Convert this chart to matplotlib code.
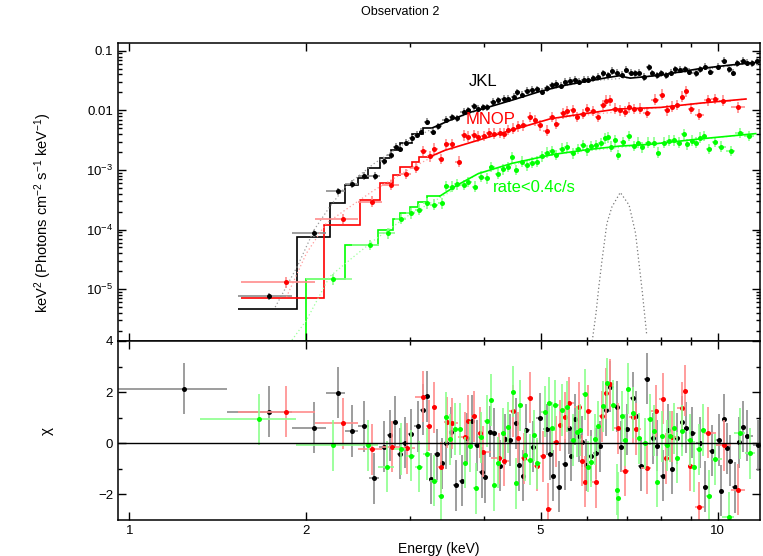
import numpy as np
import matplotlib
matplotlib.use("Agg")
import matplotlib.pyplot as plt
from matplotlib.ticker import FixedLocator, FixedFormatter, NullFormatter, LogLocator

plt.rcParams["font.family"] = ["Liberation Sans", "DejaVu Sans"]
plt.rcParams["mathtext.default"] = "regular"

# ---- unfolded spectra (top panel) ----
black_e = [1.73, 2.06, 2.26, 2.39, 2.51, 2.62, 2.71, 2.78, 2.84, 2.89, 2.95, 3.02, 3.08, 3.13, 3.20,
           3.28, 3.35, 3.46, 3.53, 3.60, 3.70, 3.77, 3.85, 3.92, 3.99, 4.05, 4.15, 4.24, 4.33, 4.41,
           4.50, 4.56, 4.65, 4.74, 4.83, 4.94, 5.02, 5.12, 5.22, 5.32, 5.41, 5.50, 5.61, 5.72, 5.81,
           5.92, 6.02, 6.14, 6.26, 6.39, 6.52, 6.60, 6.73, 6.87, 6.98, 7.11, 7.24, 7.36, 7.48, 7.63,
           7.73, 7.87, 8.02, 8.16, 8.33, 8.47, 8.62, 8.80, 8.95, 9.17, 9.33, 9.53, 9.72, 10.0, 10.26,
           10.44, 10.63, 10.8, 11.04, 11.23, 11.45, 11.67]
black_f = [7.6e-6, 8.7e-5, 4.4e-4, 5.8e-4, 7.9e-4, 7.9e-4, 1.41e-3, 1.78e-3, 2.45e-3, 2.29e-3,
           2.88e-3, 3.39e-3, 3.89e-3, 4.37e-3, 6.46e-3, 4.37e-3, 5.37e-3, 6.92e-3, 7.59e-3, 7.41e-3,
           9.55e-3, 1.01e-2, 1.17e-2, 1.07e-2, 1.12e-2, 1.12e-2, 1.38e-2, 1.48e-2, 1.58e-2, 1.58e-2,
           1.70e-2, 2.0e-2, 1.82e-2, 2.14e-2, 2.19e-2, 2.24e-2, 2.04e-2, 2.34e-2, 2.63e-2, 2.82e-2,
           2.57e-2, 3.02e-2, 3.16e-2, 3.24e-2, 3.02e-2, 3.24e-2, 3.24e-2, 3.47e-2, 3.63e-2, 4.17e-2,
           3.89e-2, 4.57e-2, 4.27e-2, 3.98e-2, 4.79e-2, 4.27e-2, 4.17e-2, 4.27e-2, 3.63e-2, 5.25e-2,
           4.17e-2, 3.89e-2, 4.17e-2, 3.89e-2, 4.27e-2, 4.90e-2, 4.79e-2, 4.90e-2, 4.47e-2, 4.17e-2,
           4.90e-2, 5.37e-2, 4.47e-2, 5.37e-2, 6.76e-2, 4.90e-2, 4.27e-2, 6.17e-2, 6.76e-2, 6.31e-2,
           6.17e-2, 6.61e-2]

red_e = [1.85, 2.31, 2.59, 2.79, 2.95, 3.07, 3.16, 3.24, 3.30, 3.39, 3.46, 3.53, 3.63, 3.70, 3.77,
         3.85, 3.92, 4.00, 4.09, 4.17, 4.26, 4.33, 4.41, 4.49, 4.58, 4.67, 4.80, 4.89, 4.98, 5.13,
         5.22, 5.32, 5.45, 5.55, 5.67, 5.76, 5.90, 6.00, 6.13, 6.25, 6.39, 6.47, 6.56, 6.68, 6.81,
         6.95, 7.08, 7.22, 7.37, 7.59, 7.83, 8.04, 8.20, 8.37, 8.54, 8.71, 8.83, 9.00, 9.30, 9.63,
         9.88, 10.22, 10.82]
red_f = [1.30e-5, 1.51e-4, 2.95e-4, 5.62e-4, 8.51e-4, 1.08e-3, 2.09e-3, 1.70e-3, 2.29e-3, 1.53e-3,
         2.69e-3, 2.69e-3, 1.38e-3, 3.80e-3, 3.63e-3, 3.80e-3, 3.63e-3, 3.72e-3, 4.17e-3, 4.07e-3,
         4.17e-3, 4.07e-3, 4.68e-3, 4.90e-3, 5.37e-3, 5.62e-3, 7.76e-3, 6.76e-3, 5.62e-3, 4.57e-3,
         7.76e-3, 5.89e-3, 8.91e-3, 9.77e-3, 1.0e-2, 7.76e-3, 8.71e-3, 1.05e-2, 9.77e-3, 7.76e-3,
         1.23e-2, 1.45e-2, 1.48e-2, 1.07e-2, 1.0e-2, 9.55e-3, 1.12e-2, 1.05e-2, 1.07e-2, 9.12e-3,
         1.51e-2, 1.82e-2, 1.0e-2, 1.15e-2, 1.23e-2, 1.70e-2, 2.09e-2, 1.07e-2, 8.51e-3, 1.48e-2,
         1.55e-2, 1.45e-2, 1.12e-2]

green_e = [2.22, 2.57, 2.75, 2.90, 3.01, 3.11, 3.20, 3.30, 3.40, 3.46, 3.53, 3.60, 3.70, 3.77, 3.87,
           3.96, 4.05, 4.12, 4.24, 4.32, 4.41, 4.47, 4.55, 4.65, 4.74, 4.83, 4.93, 5.02, 5.12, 5.22,
           5.31, 5.43, 5.54, 5.67, 5.78, 5.90, 6.00, 6.10, 6.21, 6.33, 6.43, 6.52, 6.58, 6.70, 6.76,
           6.90, 7.06, 7.20, 7.31, 7.45, 7.60, 7.78, 7.93, 8.10, 8.25, 8.42, 8.58, 8.76, 8.88, 9.06,
           9.18, 9.33, 9.48, 9.66, 9.88, 10.14, 10.52, 10.89, 11.30]
green_f = [1.46e-5, 5.5e-5, 8.7e-5, 1.51e-4, 1.86e-4, 2.14e-4, 2.75e-4, 2.63e-4, 2.75e-4, 5.37e-4,
           5.25e-4, 5.75e-4, 5.62e-4, 6.31e-4, 5.25e-4, 7.76e-4, 7.24e-4, 1.12e-3, 8.71e-4, 1.02e-3,
           1.12e-3, 1.62e-3, 1.0e-3, 1.38e-3, 1.20e-3, 1.32e-3, 1.38e-3, 1.70e-3, 1.95e-3, 2.09e-3,
           1.78e-3, 2.29e-3, 2.40e-3, 1.91e-3, 2.24e-3, 2.63e-3, 2.14e-3, 2.51e-3, 2.63e-3, 2.82e-3,
           3.39e-3, 3.55e-3, 2.45e-3, 3.16e-3, 1.78e-3, 2.95e-3, 3.72e-3, 2.51e-3, 2.88e-3, 2.40e-3,
           2.88e-3, 2.88e-3, 1.95e-3, 2.88e-3, 3.09e-3, 3.16e-3, 2.88e-3, 3.98e-3, 2.69e-3, 3.09e-3,
           2.88e-3, 3.47e-3, 3.72e-3, 2.24e-3, 2.95e-3, 2.45e-3, 2.09e-3, 4.17e-3, 3.72e-3]

# lower edge of the first bin, and typical error size (dex)
black_lo, red_lo, green_lo = 1.53, 1.55, 2.0
black_err, red_err, green_err = 0.06, 0.09, 0.09

# ---- folded model: binned steps at low energy, then a line ----
black_step_edges = [1.53, 1.93, 2.19, 2.33, 2.45, 2.55, 2.67, 2.78, 2.89, 3.02, 3.16, 3.28]
black_step_f = [4.7e-6, 7.4e-5, 2.75e-4, 5.5e-4, 7.2e-4, 1.07e-3, 1.58e-3, 2.14e-3, 2.82e-3, 4.07e-3, 5.13e-3]
black_line_e = [3.28, 3.5, 3.8, 4.0, 4.5, 5.0, 5.5, 6.0, 6.5, 6.8, 7.1, 8.0, 9.3, 10.5, 11.8]
black_line_f = [5.13e-3, 6.76e-3, 9.3e-3, 1.07e-2, 1.51e-2, 2.09e-2, 2.63e-2, 3.09e-2, 3.55e-2, 3.8e-2,
                3.47e-2, 3.89e-2, 5.0e-2, 5.75e-2, 6.46e-2]

red_step_edges = [1.55, 2.14, 2.47, 2.67, 2.81, 2.89, 3.02, 3.11, 3.24]
red_step_f = [7.1e-6, 1.17e-4, 3.13e-4, 5.96e-4, 8.1e-4, 1.12e-3, 1.38e-3, 1.66e-3]
red_line_e = [3.24, 3.44, 3.92, 4.47, 5.2, 5.9, 6.74, 8.0, 9.33, 11.17]
red_line_f = [1.66e-3, 2.14e-3, 3.16e-3, 4.68e-3, 7.24e-3, 8.71e-3, 1.05e-2, 1.12e-2, 1.32e-2, 1.55e-2]

green_step_edges = [1.32, 2.0, 2.33, 2.65, 2.81, 2.88, 3.0, 3.10, 3.20, 3.37]
green_step_f = [1e-7, 1.48e-5, 5.5e-5, 1.0e-4, 1.48e-4, 1.9e-4, 2.4e-4, 2.95e-4, 3.63e-4]
green_line_e = [3.37, 3.6, 3.92, 4.47, 5.25, 6.0, 6.8, 7.67, 9.3, 11.6]
green_line_f = [3.63e-4, 5.5e-4, 8.7e-4, 1.29e-3, 1.82e-3, 2.19e-3, 2.51e-3, 2.69e-3, 3.31e-3, 4.07e-3]

# ---- unfolded model components (dotted) ----
black_dot_e = [1.77, 1.93, 2.06, 2.19, 2.33, 2.6, 3.0, 3.5, 4.0, 5.0, 6.0, 8.0, 11.8]
black_dot_f = [5.0e-6, 2.4e-5, 9.8e-5, 2.4e-4, 5.25e-4, 1.26e-3, 3.2e-3, 6.76e-3, 1.07e-2, 2.09e-2,
               3.09e-2, 3.89e-2, 6.46e-2]
red_dot_e = [1.85, 2.0, 2.16, 2.33, 2.6, 3.0, 3.44, 3.92, 5.2, 8.0, 11.17]
red_dot_f = [7.4e-6, 4.0e-5, 1.26e-4, 2.14e-4, 4.5e-4, 1.05e-3, 2.14e-3, 3.16e-3, 7.24e-3, 1.12e-2, 1.55e-2]
green_dot_e = [1.89, 2.0, 2.19, 2.37, 2.6, 3.0, 3.44, 3.92, 5.25, 7.67, 11.6]
green_dot_f = [1.4e-6, 3.0e-6, 1.62e-5, 3.1e-5, 6.5e-5, 1.8e-4, 3.8e-4, 8.7e-4, 1.82e-3, 2.69e-3, 4.07e-3]
line_e = [6.12, 6.21, 6.28, 6.36, 6.48, 6.61, 6.83, 7.07, 7.25, 7.44, 7.57]
line_f = [1.35e-6, 3.9e-6, 1.1e-5, 3.1e-5, 1.26e-4, 2.4e-4, 4.2e-4, 2.57e-4, 8.7e-5, 9.5e-6, 1.8e-6]

# ---- residuals (chi) ----
black_re = [1.24, 1.73, 2.06, 2.26, 2.39, 2.51, 2.61, 2.71, 2.77, 2.83, 2.88, 2.94, 3.01, 3.09, 3.15,
            3.20, 3.26, 3.34, 3.40, 3.46, 3.52, 3.59, 3.67, 3.75, 3.82, 3.90, 3.97, 4.03, 4.11, 4.17,
            4.27, 4.35, 4.44, 4.54, 4.60, 4.67, 4.73, 4.85, 4.98, 5.12, 5.18, 5.25, 5.38, 5.51, 5.58,
            5.64, 5.71, 5.80, 5.87, 5.97, 6.08, 6.22, 6.32, 6.45, 6.57, 6.74, 6.85, 7.00, 7.17, 7.26,
            7.40, 7.57, 7.75, 7.90, 8.08, 8.23, 8.37, 8.54, 8.69, 8.84, 9.03, 9.34, 9.52, 9.78, 10.04,
            10.11, 10.25, 10.38, 10.51, 10.68, 10.87, 11.05, 11.22, 11.71]
black_chi = [2.14, 1.23, 0.61, 1.97, 0.48, 0.67, -1.36, -0.13, 0.32, 0.84, -0.40, 0.03, 0.36, 0.67, 1.32,
             1.84, -1.39, -0.43, -0.78, 0.0, 0.43, -1.65, -1.46, 0.19, 0.88, -0.07, -1.13, -1.33, 0.45, 0.39,
             -0.87, 0.16, 0.13, 0.78, -0.85, -1.26, 0.52, -0.13, 0.97, 0.55, -0.42, -1.26, -1.69, -0.82, 0.58,
             -0.48, 0.94, 0.28, 0.06, -0.85, -0.49, -0.39, -0.11, 1.30, 2.21, 1.43, -0.13, 0.55, 1.78, 1.06,
             -0.88, 2.53, 0.19, -0.10, -1.26, 0.52, -1.0, 0.19, 0.84, 0.61, 0.41, 0.03, -1.69, -0.29, 0.13,
             -1.85, 0.94, -0.20, -0.68, -1.72, 0.04, 0.65, 0.30, -0.07]
red_re = [1.85, 2.31, 2.59, 2.80, 2.96, 3.16, 3.23, 3.30, 3.38, 3.47, 3.53, 3.72, 3.77, 3.85, 3.94,
          3.99, 4.25, 4.34, 4.49, 4.58, 4.69, 4.79, 4.93, 5.05, 5.15, 5.32, 5.40, 5.51, 5.59, 5.80,
          5.89, 5.95, 6.02, 6.21, 6.35, 6.46, 6.55, 6.76, 6.95, 7.17, 7.26, 7.57, 7.84, 8.08, 8.18,
          8.37, 8.71, 8.81, 8.98, 9.31, 9.62, 10.23, 10.82]
red_chi = [1.23, 0.78, -0.23, -0.13, -0.20, 1.82, 0.69, 1.40, -0.94, 0.82, 0.78, 0.23, 0.88, 1.06, 0.41,
           -0.33, -0.59, -0.68, 1.26, 0.22, -0.59, 1.78, -0.88, -0.50, -2.57, 0.06, 0.71, 1.01, 1.58, 1.40,
           -0.68, -1.50, 1.27, -1.52, 1.06, 1.95, 2.30, 0.58, -1.07, 1.01, 0.56, -0.98, 1.26, 1.75, -0.59,
           0.26, 1.39, 2.05, -0.87, -2.50, 0.41, -0.07, -1.82]
green_re = [1.66, 2.22, 2.55, 2.74, 2.90, 3.01, 3.11, 3.20, 3.30, 3.39, 3.46, 3.51, 3.58, 3.65, 3.72,
            3.80, 3.88, 3.96, 4.05, 4.12, 4.17, 4.24, 4.32, 4.41, 4.48, 4.54, 4.62, 4.70, 4.79, 4.88,
            4.94, 5.09, 5.17, 5.22, 5.30, 5.43, 5.54, 5.67, 5.76, 5.84, 5.94, 6.02, 6.08, 6.19, 6.27,
            6.38, 6.48, 6.64, 6.74, 6.78, 6.87, 6.95, 7.04, 7.18, 7.36, 7.52, 7.66, 7.78, 7.90, 8.04,
            8.20, 8.31, 8.42, 8.54, 8.71, 8.97, 9.11, 9.29, 9.45, 9.65, 9.89, 10.46, 10.89, 11.33]
green_chi = [0.94, -0.07, -0.07, -0.91, -0.22, -0.49, -0.91, -0.42, -1.46, -2.05, 1.01, 0.16, 0.56, 0.56, -0.76,
             -0.11, -1.76, 0.23, 0.87, 1.69, -1.63, -0.76, 0.39, 0.62, 2.01, -1.56, 1.49, -0.46, -0.65, 0.32,
             -0.78, 1.23, 1.58, 0.61, 1.48, 1.30, 1.43, 0.13, 0.45, 0.52, 1.92, -0.91, -0.72, 0.16, 0.67,
             1.45, 2.34, 1.49, -1.82, -2.14, 1.06, 0.13, 2.14, 1.19, 0.19, 0.0, 0.94, 0.49, -1.50, 0.28,
             -0.07, 0.28, 0.58, -0.56, 0.49, 0.13, -0.91, -0.23, 0.52, -2.05, -0.62, -2.89, 0.39, -0.39]
black_re_lo, red_re_lo, green_re_lo = 0.89, 1.53, 1.32


def bin_xerr(e, lo):
    e = np.asarray(e, float)
    mid = np.sqrt(e[1:] * e[:-1])
    left = np.r_[lo, mid]
    right = np.r_[mid, e[-1] ** 2 / mid[-1]]
    return np.vstack([e - left, right - e])


def log_yerr(f, dex):
    f = np.asarray(f, float)
    return np.vstack([f - f / 10 ** dex, f * 10 ** dex - f])


fig = plt.figure(figsize=(7.63, 5.56), dpi=100)
ax1 = fig.add_axes([0.1547, 0.3867, 0.8414, 0.536])
ax2 = fig.add_axes([0.1547, 0.0647, 0.8414, 0.322])

series = [
    ("black", "#000000", "#8c8c8c", "#9a9a9a"),
    ("red", "#ff0000", "#ff8c8c", "#ff9a9a"),
    ("green", "#00ff00", "#8cff8c", "#9aff9a"),
]
data = {
    "black": (black_e, black_f, black_lo, black_err, black_step_edges, black_step_f, black_line_e,
              black_line_f, black_dot_e, black_dot_f, black_re, black_chi, black_re_lo),
    "red": (red_e, red_f, red_lo, red_err, red_step_edges, red_step_f, red_line_e,
            red_line_f, red_dot_e, red_dot_f, red_re, red_chi, red_re_lo),
    "green": (green_e, green_f, green_lo, green_err, green_step_edges, green_step_f, green_line_e,
              green_line_f, green_dot_e, green_dot_f, green_re, green_chi, green_re_lo),
}

ax1.plot(line_e, line_f, color="#777777", lw=0.9, ls=(0, (1, 2)))
for name, col, ecol, dcol in series:
    (e, f, lo, err, sedges, sf, le, lf, de, df, re, chi, relo) = data[name]
    ax1.plot(de, df, color=dcol, lw=0.9, ls=(0, (1, 2)))
    ax1.errorbar(e, f, xerr=bin_xerr(e, lo), yerr=log_yerr(f, err), fmt="none",
                 ecolor=ecol, elinewidth=1.2, capsize=0)
    ax1.stairs(sf, sedges, color=col, lw=1.2, baseline=None)
    ax1.plot(le, lf, color=col, lw=1.2)
    ax1.plot(e, f, "o", color=col, ms=3.6, mec="none")

    ax2.errorbar(re, chi, xerr=bin_xerr(re, relo), yerr=1.0, fmt="none",
                 ecolor=ecol, elinewidth=1.2, capsize=0)
    ax2.plot(re, chi, "o", color=col, ms=3.6, mec="none")

ax2.axhline(0, color="k", lw=1.0)

ax1.text(3.77, 0.031, "JKL", color="k", fontsize=12, ha="left", va="center")
ax1.text(3.73, 6.9e-3, "MNOP", color="#ff0000", fontsize=12, ha="left", va="center")
ax1.text(4.15, 5.0e-4, "rate<0.4c/s", color="#00ff00", fontsize=12, ha="left", va="center")

for ax in (ax1, ax2):
    ax.set_xscale("log")
    ax.set_xlim(0.957, 11.8)
    ax.xaxis.set_major_locator(FixedLocator([1, 2, 5, 10]))
    ax.xaxis.set_minor_locator(FixedLocator([3, 4, 6, 7, 8, 9]))
    ax.xaxis.set_minor_formatter(NullFormatter())
    ax.tick_params(which="both", direction="in", top=True, right=True, labelsize=9.5,
                   width=1.0, color="k")
    ax.tick_params(which="major", length=5.5)
    ax.tick_params(which="minor", length=2.8)
    for s in ax.spines.values():
        s.set_linewidth(1.1)

ax1.set_yscale("log")
ax1.set_ylim(1.35e-6, 0.135)
ax1.yaxis.set_major_locator(FixedLocator([1e-5, 1e-4, 1e-3, 1e-2, 1e-1]))
ax1.yaxis.set_major_formatter(FixedFormatter(["$10^{-5}$", "$10^{-4}$", "$10^{-3}$", "0.01", "0.1"]))
ax1.yaxis.set_minor_locator(LogLocator(base=10, subs=np.arange(2, 10)))
ax1.yaxis.set_minor_formatter(NullFormatter())
ax1.xaxis.set_major_formatter(NullFormatter())
ax1.set_ylabel("keV$^{2}$ (Photons cm$^{-2}$ s$^{-1}$ keV$^{-1}$)", fontsize=10.5)

ax2.set_ylim(-3, 4)
ax2.yaxis.set_major_locator(FixedLocator([-2, 0, 2, 4]))
ax2.yaxis.set_minor_locator(FixedLocator([-1, 1, 3]))
ax2.xaxis.set_major_formatter(FixedFormatter(["1", "2", "5", "10"]))
ax2.set_ylabel("χ", fontsize=11)
ax2.set_xlabel("Energy (keV)", fontsize=10, labelpad=4)

fig.text(0.524, 0.978, "Observation 2", ha="center", va="center", fontsize=9)
ax1.yaxis.set_label_coords(-0.10, 0.43)
ax2.yaxis.set_label_coords(-0.10, 0.5)

fig.savefig("out.png", dpi=100)
